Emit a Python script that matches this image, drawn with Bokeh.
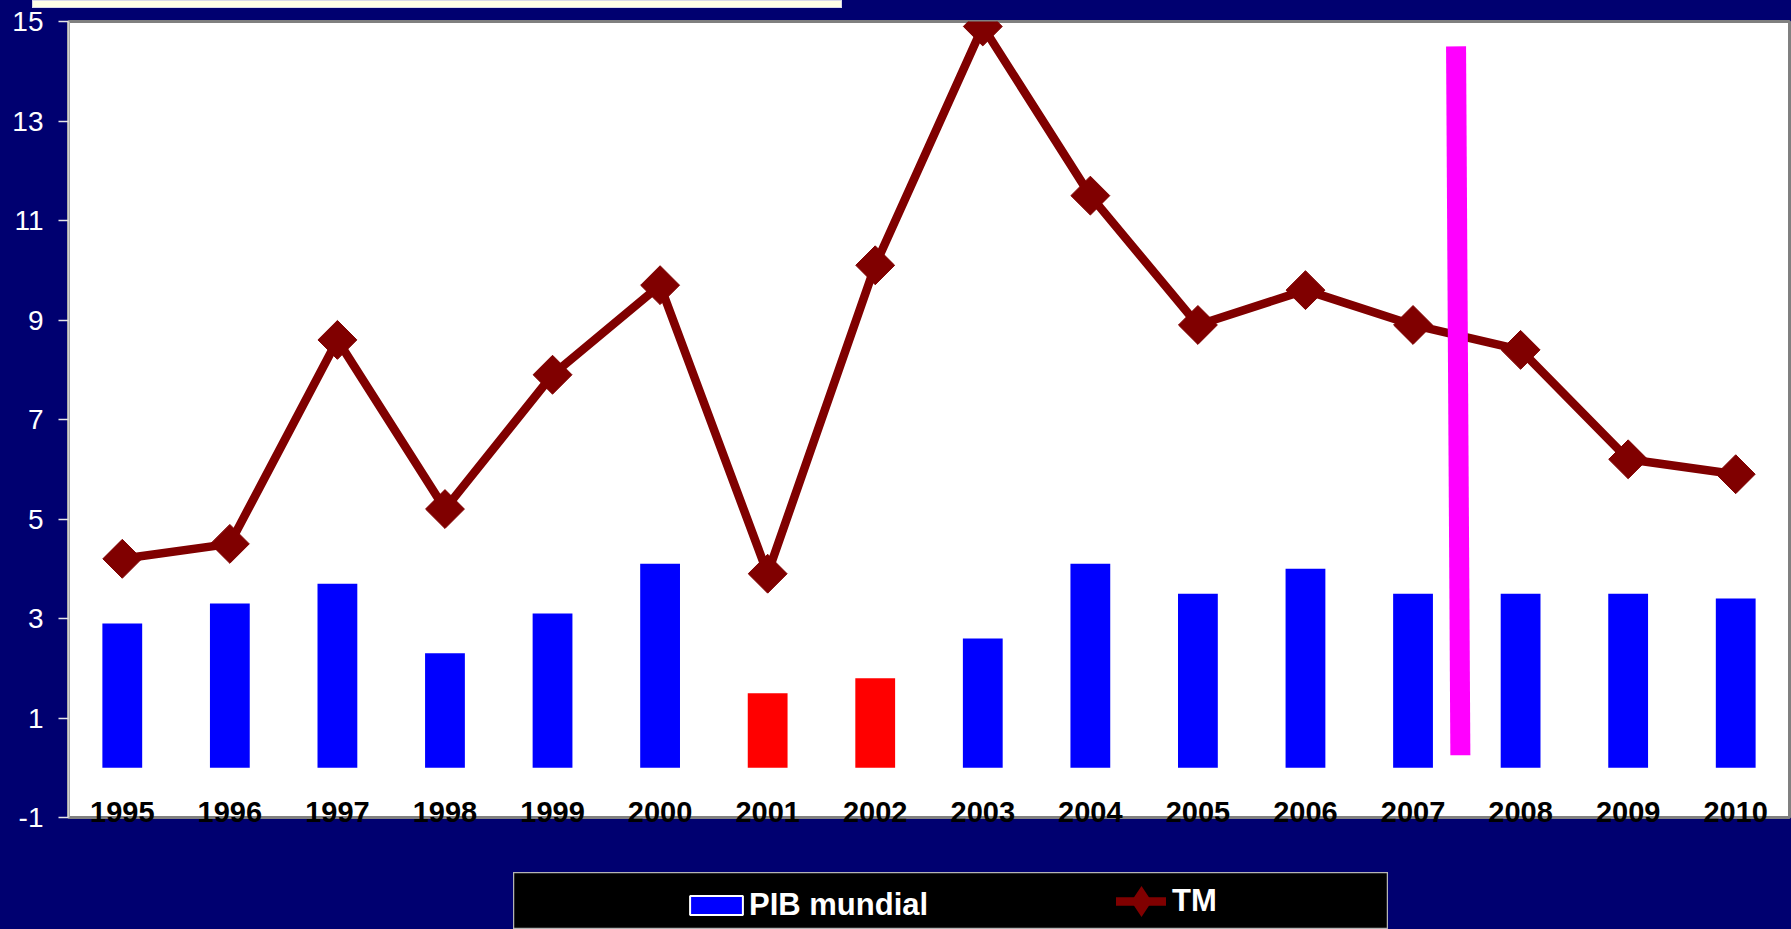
import math

from bokeh.embed import file_html
from bokeh.layouts import column, row
from bokeh.models import (FactorRange, FixedTicker, Legend, LegendItem,
                          PrintfTickFormatter, Range1d, Spacer)
from bokeh.plotting import figure
from bokeh.resources import INLINE

# ---- data -------------------------------------------------------------
years = ["1995", "1996", "1997", "1998", "1999", "2000", "2001", "2002",
         "2003", "2004", "2005", "2006", "2007", "2008", "2009", "2010"]
pib_mundial = [2.9, 3.3, 3.7, 2.3, 3.1, 4.1, 1.5, 1.8,
               2.6, 4.1, 3.5, 4.0, 3.5, 3.5, 3.5, 3.4]
tm = [4.2, 4.5, 8.6, 5.2, 7.9, 9.7, 3.9, 10.1,
      14.9, 11.5, 8.9, 9.6, 8.9, 8.4, 6.2, 5.9]
y_ticks = [-1, 1, 3, 5, 7, 9, 11, 13, 15]
slow_years = ["2001", "2002"]

# vertical marker drawn between 2007 and 2008
cut_top = 14.5
cut_bottom = 0.25

# ---- styling ----------------------------------------------------------
NAVY = "#000070"
BLUE = "#0000FF"
RED = "#FF0000"
DARK_RED = "#800000"
MAGENTA = "#FF00FF"
FONT = "Liberation Sans"

bar_colors = [RED if y in slow_years else BLUE for y in years]

p = figure(
    width=1791, height=872,
    x_range=FactorRange(*years), y_range=Range1d(-1, 15),
    output_backend="svg", toolbar_location=None,
    min_border_left=68, min_border_right=2,
    min_border_top=21, min_border_bottom=55,
    border_fill_color=NAVY, background_fill_color="white",
    outline_line_color="#808080", outline_line_width=3,
)
p.grid.visible = False

# y axis: white labels on the navy border
yax = p.yaxis[0]
yax.ticker = FixedTicker(ticks=y_ticks)
yax.formatter = PrintfTickFormatter(format="%d")
yax.major_label_text_color = "white"
yax.major_label_text_font = FONT
yax.major_label_text_font_size = "28px"
yax.major_label_standoff = 15
yax.major_tick_out = 10
yax.major_tick_in = 0
yax.major_tick_line_color = "#e6e6e6"
yax.major_tick_line_width = 1.5
yax.minor_tick_line_color = None
yax.axis_line_color = "#d0d0d0"
yax.axis_line_width = 2

# x axis: bold year labels sitting just inside the bottom of the plot area
xax = p.xaxis[0]
xax.axis_line_color = None
xax.major_tick_line_color = None
xax.major_tick_out = 0
xax.major_tick_in = 0
xax.minor_tick_line_color = None
xax.major_label_text_color = "black"
xax.major_label_text_font = FONT
xax.major_label_text_font_style = "bold"
xax.major_label_text_font_size = "29px"
xax.major_label_standoff = -16

# ---- glyphs -----------------------------------------------------------
p.vbar(x=years, top=pib_mundial, bottom=0, width=0.37,
       fill_color=bar_colors, line_color=None)

p.line(x=years, y=tm, line_color=DARK_RED, line_width=8.5)
p.scatter(x=years, y=tm, marker="square", angle=math.pi / 4, size=27.5,
          fill_color=DARK_RED, line_color=DARK_RED)

p.segment(x0=[("2007", 0.40)], y0=[cut_top], x1=[("2007", 0.44)], y1=[cut_bottom],
          line_color=MAGENTA, line_width=20, line_cap="butt")

# ---- legend panel (black box under the chart) -------------------------
leg = figure(
    width=875, height=57, x_range=Range1d(0, 1), y_range=Range1d(0, 1),
    output_backend="svg", toolbar_location=None,
    x_axis_type=None, y_axis_type=None, min_border=0,
    background_fill_color="black", border_fill_color="black",
    outline_line_color="#b4b4b4", outline_line_width=1.5,
)
# key glyphs: their single point lies outside the visible ranges,
# only the legend swatches show
pib_key = leg.vbar(x=[-10], top=[-10], width=0.1, fill_color=BLUE,
                   line_color="white", line_width=2)
tm_key_line = leg.line(x=[-10, -9], y=[-10, -10], line_color=DARK_RED,
                       line_width=8.5, line_cap="round")
tm_key_mark = leg.scatter(x=[-10], y=[-10], marker="diamond", size=21,
                          fill_color=DARK_RED, line_color=DARK_RED,
                          line_width=6, line_join="miter")

legend_style = dict(padding=0, margin=0, spacing=0,
                    background_fill_alpha=0, border_line_color=None,
                    label_text_color="white", label_text_font=FONT,
                    label_text_font_style="bold", label_text_font_size="31px")

leg.add_layout(Legend(items=[LegendItem(label="PIB mundial", renderers=[pib_key])],
                      location=(170, 6), glyph_width=66, glyph_height=24,
                      label_standoff=0, **legend_style))
leg.add_layout(Legend(items=[LegendItem(label="TM", renderers=[tm_key_line, tm_key_mark])],
                      location=(603, 2), glyph_width=50, glyph_height=52,
                      label_standoff=6, **legend_style))

# ---- thin cream strip at the very top, laid over the navy border ------
top_strip = Spacer(width=810, height=8, styles={
    "position": "absolute", "top": "0px", "left": "32px", "z-index": "5",
    "background-color": "#FFFFE6", "border": "1px solid #d8d8e8",
    "box-sizing": "border-box",
})

navy = {"background-color": NAVY}
bottom_strip = row(
    Spacer(width=513, height=57, styles=navy),
    leg,
    Spacer(width=403, height=57, styles=navy),
    styles=navy,
)

page = column(p, bottom_strip, top_strip, spacing=0, styles=navy)

open("out.html", "w").write(file_html(page, INLINE))
